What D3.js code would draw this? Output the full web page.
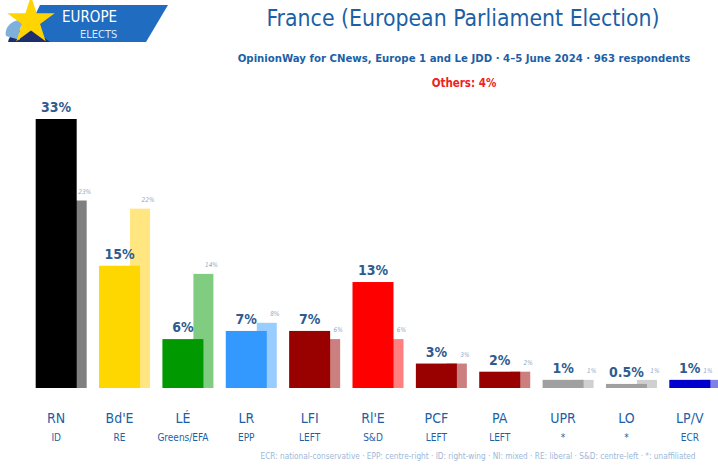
<!DOCTYPE html>
<html><head><meta charset="utf-8">
<script src="https://cdn.jsdelivr.net/npm/d3@7"></script>
<style>body{margin:0;background:#fff;}svg{display:block;}</style>
</head><body>
<svg id="c" width="718" height="465"></svg>
<script>
const parties = ["RN","Bd'E","LÉ","LR","LFI","Rl'E","PCF","PA","UPR","LO","LP/V"];
const groups = ["ID","RE","Greens/EFA","EPP","LEFT","S&D","LEFT","LEFT","*","*","ECR"];
const current = [33,15,6,7,7,13,3,2,1,0.5,1];
const currentLabels = ["33%","15%","6%","7%","7%","13%","3%","2%","1%","0.5%","1%"];
const previous = [23,22,14,8,6,6,3,2,1,1,1];
const previousLabels = ["23%","22%","14%","8%","6%","6%","3%","2%","1%","1%","1%"];
const colors = ["#000000","#FFD700","#009900","#3399FF","#990000","#FF0000","#990000","#990000","#A0A0A0","#A0A0A0","#0000CC"];
const prevColors = ["#808080","#FFE680","#80CC80","#99CCFF","#CC7F7F","#FF8080","#CC7F7F","#CC7F7F","#D0D0D0","#D0D0D0","#8080E6"];

const svg = d3.select("#c");
const F = "'DejaVu Sans Condensed','Liberation Sans Narrow',sans-serif";
const blue = "#1d5fa6";

// logo
const logo = svg.append("g");
logo.append("path").attr("d","M40,5 L168,5 L146,42 L22,42 Z").attr("fill","#1f6cc0");
logo.append("path").attr("d","M8,42 C10,32 20,28 34,30 L50,42 Z").attr("fill","#1b2f6e");
logo.append("path").attr("d","M6,36 C4,26 14,18 26,20 C20,26 18,32 20,40 Z").attr("fill","#7fb0dc");
const star = d3.symbol().type(d3.symbolStar).size(700);
logo.append("path").attr("d",star()).attr("transform","translate(31,21)").attr("fill","#ffd400");
logo.append("text").attr("x",62).attr("y",22).attr("fill","#fff").attr("font-family",F).attr("font-size",15).text("EUROPE");
logo.append("text").attr("x",80).attr("y",38).attr("fill","#dbe8f7").attr("font-family",F).attr("font-size",11).text("ELECTS");

// titles
svg.append("text").attr("x",463).attr("y",26).attr("text-anchor","middle").attr("fill",blue)
  .attr("font-family",F).attr("font-size",22.8).text("France (European Parliament Election)");
svg.append("text").attr("x",464).attr("y",62).attr("text-anchor","middle").attr("fill",blue)
  .attr("font-family",F).attr("font-size",11.3).attr("font-weight","bold").text("OpinionWay for CNews, Europe 1 and Le JDD · 4–5 June 2024 · 963 respondents");
svg.append("text").attr("x",464).attr("y",87).attr("text-anchor","middle").attr("fill","#ee2222")
  .attr("font-family",F).attr("font-size",11.5).attr("font-weight","bold").text("Others: 4%");

// scales
const x = d3.scaleBand().domain(parties).range([24.5,721.5]).paddingInner(0).paddingOuter(0);
const y = d3.scaleLinear().domain([0,33]).range([388,119]);
const bw = 41;

const g = svg.append("g");
parties.forEach((p,i)=>{
  const bx = x(p) + (x.bandwidth()-bw)/2;
  g.append("rect").attr("x",bx+31).attr("width",20).attr("y",y(previous[i])).attr("height",y(0)-y(previous[i])).attr("fill",prevColors[i]);
  g.append("rect").attr("x",bx).attr("width",bw).attr("y",y(current[i])).attr("height",y(0)-y(current[i])).attr("fill",colors[i]);
  g.append("text").attr("x",bx+bw/2).attr("y",y(current[i])-7).attr("text-anchor","middle")
    .attr("fill","#2f5c8f").attr("font-family",F).attr("font-weight","bold").attr("font-size",14).text(currentLabels[i]);
  const px = Math.min(bx+49, 708);
  g.append("text").attr("x",px).attr("y",y(previous[i])-7).attr("text-anchor","middle")
    .attr("fill","#8fa8c8").attr("font-family",F).attr("font-style","italic").attr("font-size",6.5).text(previousLabels[i]);
  g.append("text").attr("x",bx+bw/2).attr("y",423).attr("text-anchor","middle")
    .attr("fill",blue).attr("font-family",F).attr("font-size",14).text(p);
  g.append("text").attr("x",bx+bw/2).attr("y",441).attr("text-anchor","middle")
    .attr("fill",blue).attr("font-family",F).attr("font-size",10).text(groups[i]);
});

svg.append("text").attr("x",478).attr("y",459).attr("text-anchor","middle").attr("fill","#9db8d8")
  .attr("font-family",F).attr("font-size",8.2).text("ECR: national-conservative · EPP: centre-right · ID: right-wing · NI: mixed · RE: liberal · S&D: centre-left · *: unaffiliated");
</script>
</body></html>
